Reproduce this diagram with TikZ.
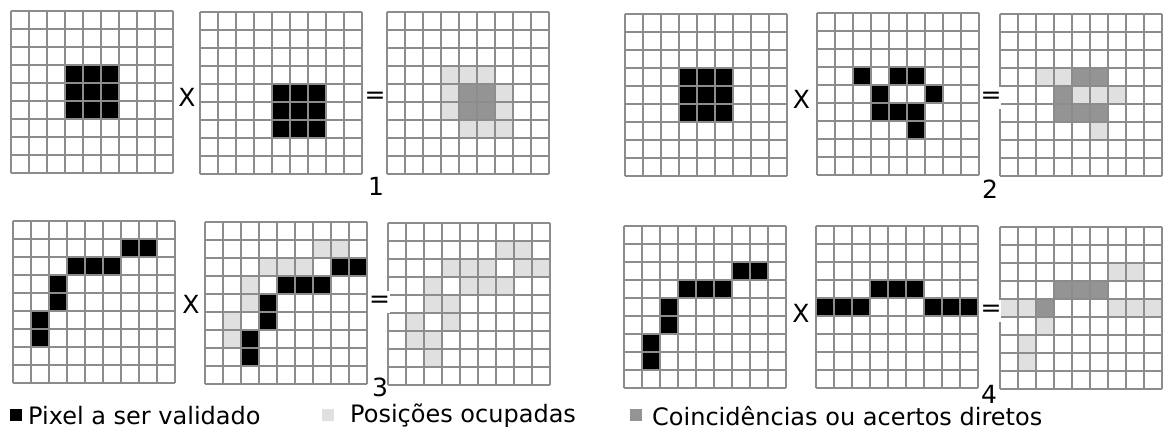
\documentclass[tikz,border=0pt]{standalone}
\usepackage{fontspec}
\setmainfont{DejaVu Sans}
\begin{document}
\begin{tikzpicture}[
    x=1pt, y=-1pt,
    font=\fontsize{25}{29}\selectfont,
    grade/.style={x=18pt, y=-18pt},
    linha/.style={draw=black!45, line width=2pt},
    preto/.style={fill=black},
    claro/.style={fill=black!12},
    escuro/.style={fill=black!42},
    op/.style={inner sep=0pt},
    opb/.style={inner xsep=0pt, inner ysep=0pt, fill=white, minimum height=22pt},
    quad/.style={draw=none, minimum size=12pt, inner sep=0pt},
    leg/.style={anchor=west, inner sep=0pt, font=\fontsize{24}{28}\selectfont},
  ]
  \useasboundingbox (0,0) rectangle (1172,436);

  % --- caso 1: quadrado x quadrado deslocado ---
  \begin{scope}[shift={(11,11)}, grade]
    \foreach \c/\r in {3/3,4/3,5/3,3/4,4/4,5/4,3/5,4/5,5/5}
      \fill[preto] (\c,\r) rectangle +(1,1);
  \end{scope}
  \begin{scope}[shift={(200,12)}, grade]
    \foreach \c/\r in {4/4,5/4,6/4,4/5,5/5,6/5,4/6,5/6,6/6}
      \fill[preto] (\c,\r) rectangle +(1,1);
  \end{scope}
  \begin{scope}[shift={(387,12)}, grade]
    \foreach \c/\r in {3/3,4/3,5/3,3/4,6/4,3/5,6/5,4/6,5/6,6/6}
      \fill[claro] (\c,\r) rectangle +(1,1);
    \foreach \c/\r in {4/4,5/4,4/5,5/5}
      \fill[escuro] (\c,\r) rectangle +(1,1);
  \end{scope}

  % --- caso 2: quadrado x forma irregular ---
  \begin{scope}[shift={(625,14)}, grade]
    \foreach \c/\r in {3/3,4/3,5/3,3/4,4/4,5/4,3/5,4/5,5/5}
      \fill[preto] (\c,\r) rectangle +(1,1);
  \end{scope}
  \begin{scope}[shift={(817,13)}, grade]
    \foreach \c/\r in {2/3,4/3,5/3,3/4,6/4,3/5,4/5,5/5,5/6}
      \fill[preto] (\c,\r) rectangle +(1,1);
  \end{scope}
  \begin{scope}[shift={(1000,14)}, grade]
    \foreach \c/\r in {2/3,3/3,4/4,5/4,6/4,5/6}
      \fill[claro] (\c,\r) rectangle +(1,1);
    \foreach \c/\r in {4/3,5/3,3/4,3/5,4/5,5/5}
      \fill[escuro] (\c,\r) rectangle +(1,1);
  \end{scope}

  % --- caso 3: curva x curva deslocada ---
  \begin{scope}[shift={(13,221)}, grade]
    \foreach \c/\r in {6/1,7/1,3/2,4/2,5/2,2/3,2/4,1/5,1/6}
      \fill[preto] (\c,\r) rectangle +(1,1);
  \end{scope}
  \begin{scope}[shift={(205,222)}, grade]
    \foreach \c/\r in {6/1,7/1,3/2,4/2,5/2,2/3,2/4,1/5,1/6}
      \fill[claro] (\c,\r) rectangle +(1,1);
    \foreach \c/\r in {7/2,8/2,4/3,5/3,6/3,3/4,3/5,2/6,2/7}
      \fill[preto] (\c,\r) rectangle +(1,1);
  \end{scope}
  \begin{scope}[shift={(388,223)}, grade]
    \foreach \c/\r in {6/1,7/1,3/2,4/2,5/2,7/2,8/2,2/3,4/3,5/3,6/3,
                       2/4,3/4,1/5,3/5,1/6,2/6,2/7}
      \fill[claro] (\c,\r) rectangle +(1,1);
  \end{scope}

  % --- caso 4: curva x linha ---
  \begin{scope}[shift={(624,226)}, grade]
    \foreach \c/\r in {6/2,7/2,3/3,4/3,5/3,2/4,2/5,1/6,1/7}
      \fill[preto] (\c,\r) rectangle +(1,1);
  \end{scope}
  \begin{scope}[shift={(816,226)}, grade]
    \foreach \c/\r in {3/3,4/3,5/3,0/4,1/4,2/4,6/4,7/4,8/4}
      \fill[preto] (\c,\r) rectangle +(1,1);
  \end{scope}
  \begin{scope}[shift={(1000,227)}, grade]
    \foreach \c/\r in {6/2,7/2,0/4,1/4,6/4,7/4,8/4,2/5,1/6,1/7}
      \fill[claro] (\c,\r) rectangle +(1,1);
    \foreach \c/\r in {3/3,4/3,5/3,2/4}
      \fill[escuro] (\c,\r) rectangle +(1,1);
  \end{scope}

  % --- as doze grelhas 9x9 ---
  \foreach \gx/\gy in {11/11, 200/12, 387/12,
                       625/14, 817/13, 1000/14,
                       13/221, 205/222, 388/223,
                       624/226, 816/226, 1000/227} {
    \begin{scope}[shift={(\gx,\gy)}, grade]
      \foreach \i in {0,...,9} {
        \draw[linha] (\i,0) -- (\i,9);
        \draw[linha] (0,\i) -- (9,\i);
      }
    \end{scope}
  }

  % --- operadores e numeros ---
  \node[op] (vezes1) at (187,97) {X};
  \node[op] (igual1) at (375,98) {=};
  \node[op] (num1)   at (376,186) {1};

  \node[op]  (vezes2) at (801.5,99.5) {X};
  \node[opb] (igual2) at (991,98) {=};
  \node[op]  (num2)   at (990,189) {2};

  \node[op]  (vezes3) at (191,304.5) {X};
  \node[opb] (igual3) at (379.5,302) {=};
  \node[op]  (num3)   at (380,387) {3};

  \node[op]  (vezes4) at (801,313) {X};
  \node[opb] (igual4) at (991,311) {=};
  \node[op]  (num4)   at (989,394) {4};

  % --- legenda ---
  \node[quad, fill=black]    (qpreto)  at (16,415) {};
  \node[leg] (lpreto)  at (28,416)  {Pixel a ser validado};
  \node[quad, fill=black!12] (qclaro)  at (328,415) {};
  \node[leg] (lclaro)  at (350,416) {Posições ocupadas};
  \node[quad, fill=black!42] (qescuro) at (636,415) {};
  \node[leg] (lescuro) at (652,416) {Coincidências ou acertos diretos};

\end{tikzpicture}
\end{document}
